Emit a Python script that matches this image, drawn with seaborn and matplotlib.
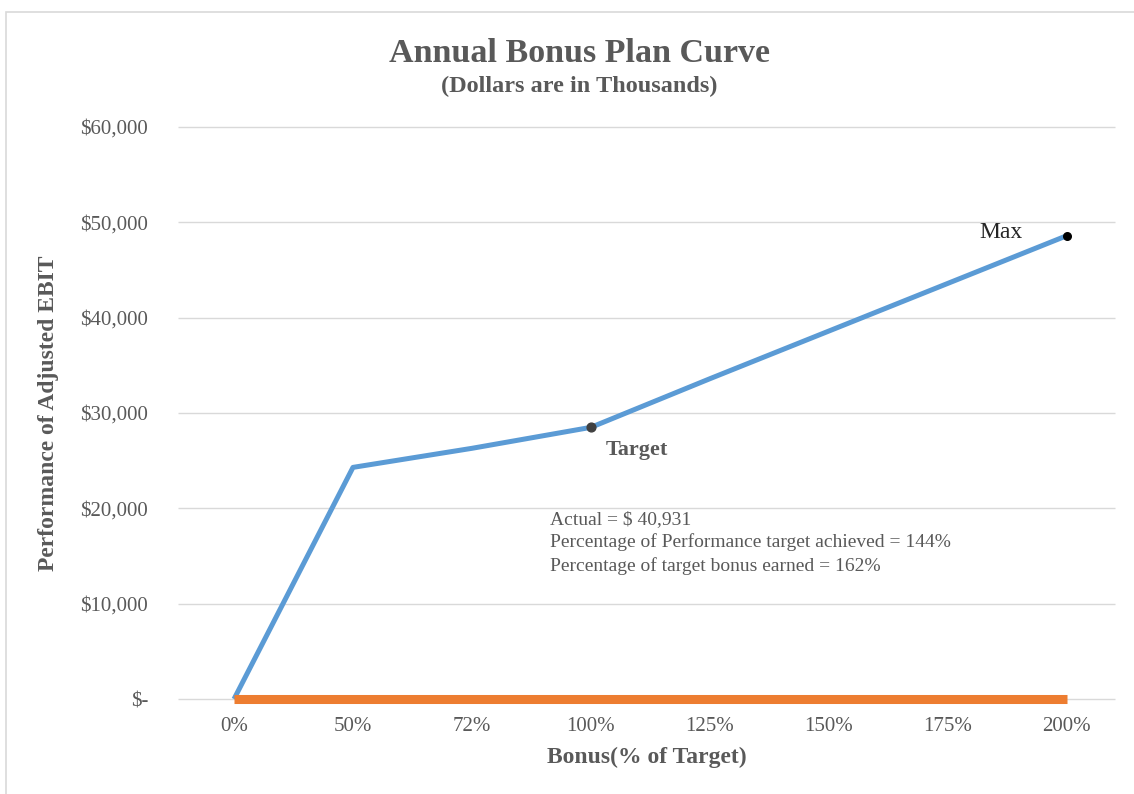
import matplotlib.pyplot as plt
from matplotlib.patches import Rectangle
from matplotlib.ticker import FuncFormatter
import seaborn as sns
import pandas as pd
import numpy as np

# Chart data
bonus_labels = ["0%", "50%", "72%", "100%", "125%", "150%", "175%", "200%"]
ebit_values = [0, 24300, 26300, 28500, 33600, 38600, 43600, 48600]
baseline_values = [0, 0, 0, 0, 0, 0, 0, 0]
target_idx = 3
max_idx = 7

GRAY = "#595959"
BLUE = "#5B9BD5"
ORANGE = "#ED7D31"

sns.set_theme(style="white")
plt.rcParams['font.family'] = ['Liberation Serif', 'DejaVu Serif']

df = pd.DataFrame({
    "pos": np.arange(len(bonus_labels)),
    "label": bonus_labels,
    "ebit": ebit_values,
    "base": baseline_values,
})

fig = plt.figure(figsize=(11.34, 7.94), dpi=100)
ax = fig.add_axes([0.157, 0.1196, 0.826, 0.7204])

# outer chart border
fig.patches.append(Rectangle((0.005, -0.01), 1.1, 0.995, transform=fig.transFigure,
                             fill=False, edgecolor="#D9D9D9", linewidth=1.2))

for yv in range(0, 60001, 10000):
    ax.axhline(yv, color="#D9D9D9", linewidth=1, zorder=0)

sns.lineplot(data=df, x="pos", y="ebit", color=BLUE, linewidth=3.6, ax=ax, zorder=3)
sns.lineplot(data=df, x="pos", y="base", color=ORANGE, linewidth=6.5, ax=ax, zorder=4)
for ln in ax.lines:
    ln.set_clip_on(False)
    ln.set_solid_capstyle("butt")

ax.scatter(df["pos"][target_idx], df["ebit"][target_idx], s=40, color="#404040", zorder=5)
ax.scatter(df["pos"][max_idx], df["ebit"][max_idx], s=30, color="black", zorder=5, clip_on=False)

ax.text(df["pos"][target_idx] + 0.12, df["ebit"][target_idx] - 1300, "Target",
        fontsize=16, fontweight="bold", color=GRAY, ha="left", va="top")
ax.text(df["pos"][max_idx] - 0.55, df["ebit"][max_idx] + 300, "Max",
        fontsize=17, color="#262626", ha="center", va="center")
ax.text(2.655, 19700,
        "Actual = $ 40,931\nPercentage of Performance target achieved = 144%\n"
        "Percentage of target bonus earned = 162%",
        fontsize=14, color=GRAY, ha="left", va="top", linespacing=1.38)

ax.set_xlim(-0.4706, 7.403)
ax.set_ylim(0, 60000)
ax.set_xticks(df["pos"])
ax.set_xticklabels(bonus_labels)
ax.set_yticks(range(0, 60001, 10000))
ax.yaxis.set_major_formatter(FuncFormatter(lambda v, p: "$-" if v == 0 else f"${v:,.0f}"))
ax.tick_params(axis="both", labelsize=15, labelcolor=GRAY, length=0)
ax.tick_params(axis="x", pad=13)
ax.tick_params(axis="y", pad=21.5)
for s in ax.spines.values():
    s.set_visible(False)

ax.set_xlabel("Bonus(% of Target)", fontsize=17, fontweight="bold", color=GRAY, labelpad=8)
ax.set_ylabel("Performance of Adjusted EBIT", fontsize=17, fontweight="bold", color=GRAY, labelpad=15)

fig.text(0.511, 0.9325, "Annual Bonus Plan Curve", fontsize=24.5, fontweight="bold",
         color=GRAY, ha="center", va="center")
fig.text(0.511, 0.8905, "(Dollars are in Thousands)", fontsize=17.5, fontweight="bold",
         color=GRAY, ha="center", va="center")

fig.savefig("out.png", dpi=100)
